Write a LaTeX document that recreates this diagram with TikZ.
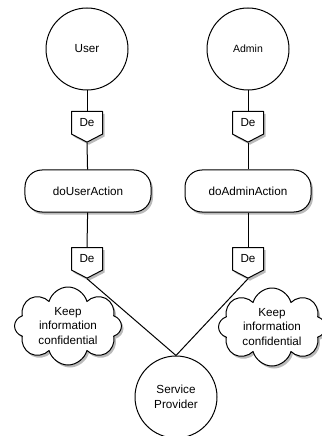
\documentclass[tikz,border=0pt]{standalone}
\usepackage{fontspec}
\setmainfont{Liberation Sans}
\usetikzlibrary{shapes.symbols,shadows}
\tikzset{
  softshadow/.style={drop shadow={opacity=0.45,fill=black!60,shadow xshift=2bp,shadow yshift=-2.5bp}},
  actor/.style={draw,circle,minimum size=82bp,inner sep=0pt,align=center},
  msg/.style={draw,fill=white,shape=signal,signal to=south,signal from=nowhere,
    signal pointer angle=125,minimum width=31bp,minimum height=27bp,inner sep=1bp,softshadow},
  act/.style={draw,fill=white,rounded corners=17bp,minimum width=126bp,minimum height=42bp,softshadow},
  goal/.style={draw,fill=white,cloud,cloud puffs=8,cloud ignores aspect,minimum width=107bp,
    minimum height=78bp,align=center,inner sep=0pt,softshadow}
}
\begin{document}
\begin{tikzpicture}[x=1bp,y=-1bp,line width=1bp,line join=round,font=\fontsize{11.7bp}{14.5bp}\selectfont]
	\useasboundingbox (0,0) rectangle (321,436);
	\node[actor] (user) at (87,49) {User};
	\node[actor,font=\fontsize{10.5bp}{13bp}\selectfont] (admin) at (248,49) {Admin};
	\node[msg,anchor=north] (deU1) at (87,111) {De};
	\node[msg,anchor=north] (deA1) at (248,111) {De};
	\node[act] (userAct) at (88,191) {doUserAction};
	\node[act] (adminAct) at (248,191) {doAdminAction};
	\node[msg,anchor=north] (deU2) at (87,247) {De};
	\node[msg,anchor=north] (deA2) at (248,247) {De};
	\node[goal] (cloudL) at (68,326) {Keep\\information\\confidential};
	\node[goal] (cloudR) at (272,327) {Keep\\information\\confidential};
	\node[actor] (provider) at (176,397) {Service\\Provider};
	\draw (user) -- (deU1.north);
	\draw (admin) -- (deA1.north);
	\draw (deU1.south) -- (userAct);
	\draw (deA1.south) -- (adminAct);
	\draw (userAct) -- (deU2.north);
	\draw (adminAct) -- (deA2.north);
	\draw (deU2.south) -- (provider.north);
	\draw (deA2.south) -- (provider.north);
\end{tikzpicture}
\end{document}
